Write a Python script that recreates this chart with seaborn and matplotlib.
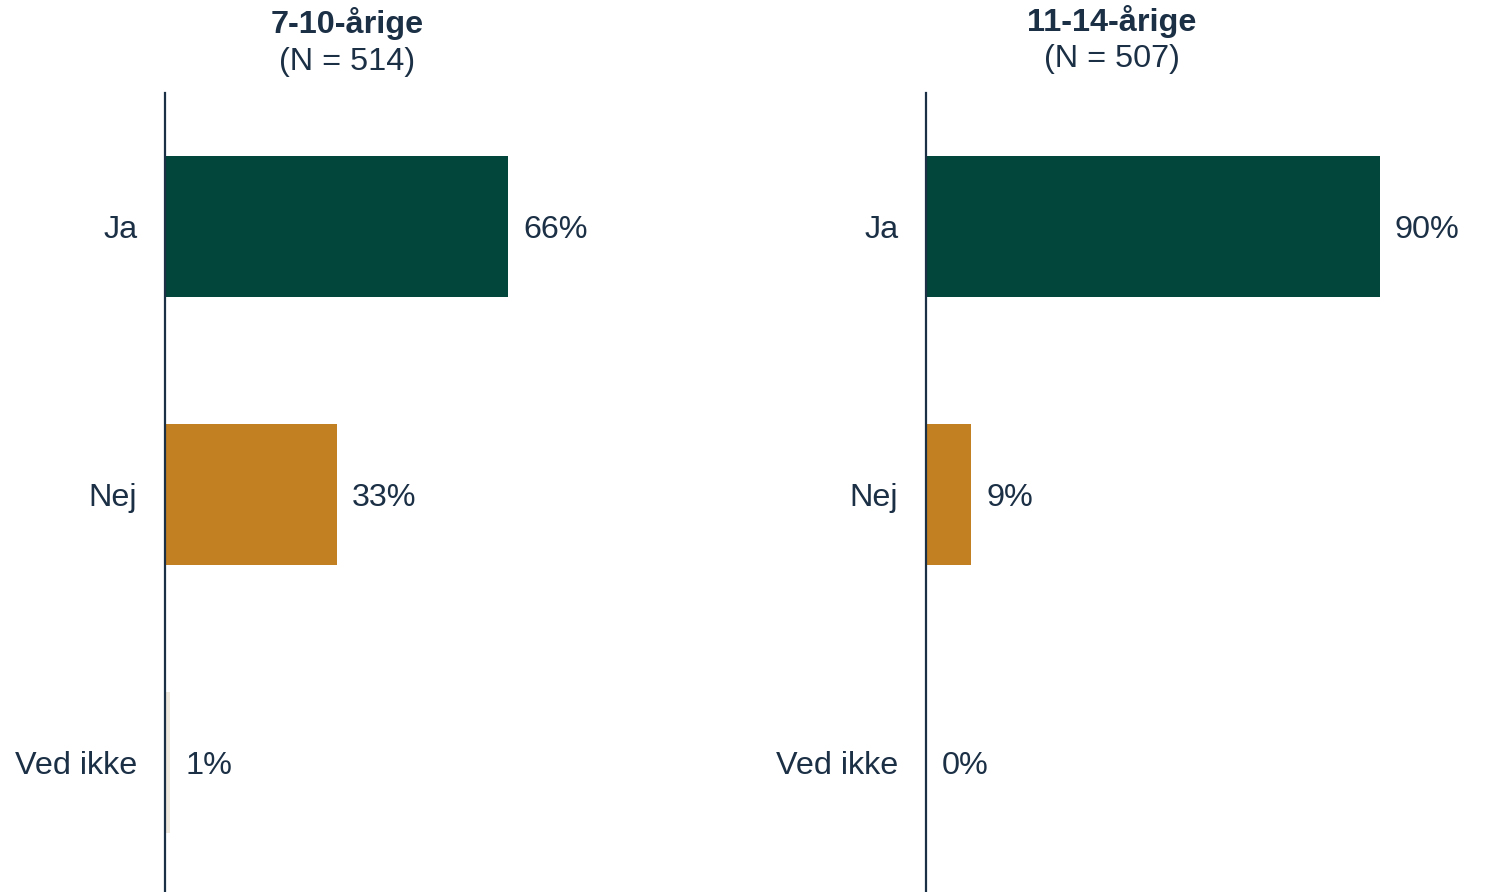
import pandas as pd
import matplotlib.pyplot as plt
import seaborn as sns

# %%
answers = ["Ja", "Nej", "Ved ikke"]
young_pct = [66, 33, 1]
old_pct = [90, 9, 0]
groups = ["7-10-årige", "11-14-årige"]
group_n = [514, 507]

colors = ["#02453a", "#c28023", "#efe8dd"]
text_color = "#1b2f45"

sns.set_theme(style="white")
plt.rcParams["font.family"] = ["Liberation Sans", "DejaVu Sans"]

# %%
fig = plt.figure(figsize=(14.86, 8.92), dpi=100)
ax_left = fig.add_axes([165 / 1486, 0, 520 / 1486, 799 / 892])
ax_right = fig.add_axes([926 / 1486, 0, 504 / 1486, 799 / 892])

fs = 23.3

for ax, values, title, n, cx, ty in zip(
    [ax_left, ax_right], [young_pct, old_pct], groups, group_n,
    [347 / 1486, 1112 / 1486], [24, 21]
):
    df = pd.DataFrame({"answer": answers, "pct": values})
    sns.barplot(
        data=df, x="pct", y="answer", hue="answer", palette=colors,
        width=0.526, ax=ax, legend=False, saturation=1, linewidth=0,
    )
    ax.set_xlim(0, 100)
    ax.set_ylim(2.483, -0.5)
    ax.set_xlabel("")
    ax.set_ylabel("")
    ax.set_xticks([])
    ax.tick_params(axis="y", length=0, pad=20, labelsize=fs, labelcolor=text_color)
    for side in ["top", "right", "bottom"]:
        ax.spines[side].set_visible(False)
    ax.spines["left"].set_color(text_color)
    ax.spines["left"].set_linewidth(1.6)

    for i, v in enumerate(values):
        ax.annotate(
            f"{v}%", (v, i), xytext=(11, 0), textcoords="offset points",
            va="center_baseline", ha="left", fontsize=fs, color=text_color,
        )

    fig.text(cx, 1 - ty / 892, title, ha="center", va="center",
             fontsize=fs, fontweight="bold", color=text_color)
    fig.text(cx, 1 - (ty + 38) / 892, f"(N = {n})", ha="center", va="center",
             fontsize=fs, color=text_color)

fig.savefig("out.png", dpi=100)
